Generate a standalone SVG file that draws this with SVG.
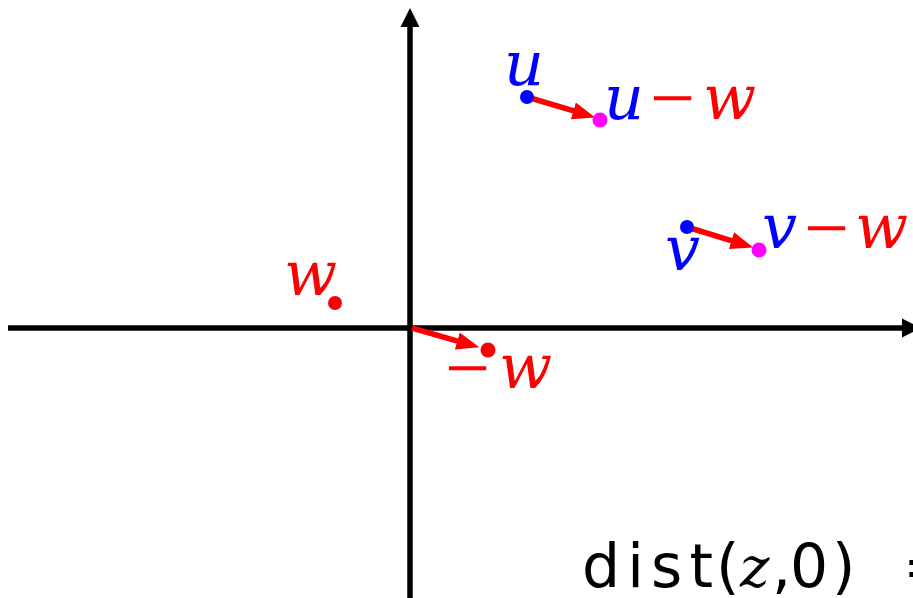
<svg xmlns="http://www.w3.org/2000/svg" width="913" height="598" viewBox="0 0 913 598">
<style>
.ax{stroke:#000;stroke-width:5.5;fill:none}
.vec{stroke:#ff0000;stroke-width:5.5;fill:none}
.m{font-family:"DejaVu Serif","Liberation Serif",serif;font-style:italic;font-size:62px}
.op{font-family:"Liberation Serif","DejaVu Serif",serif;font-size:80px}
.s{font-family:"DejaVu Sans","Liberation Sans",sans-serif;font-size:60px;fill:#000}
.b{fill:#0000ff}.r{fill:#ff0000}.mg{fill:#ff00ff}
</style>
<defs>
<marker id="ah" markerUnits="userSpaceOnUse" markerWidth="24" markerHeight="20" viewBox="0 0 22 18" refX="6" refY="9" orient="auto">
<path d="M0,1 L21,9 L0,17 Z" fill="#ff0000"/>
</marker>
</defs>
<g id="axes">
<line class="ax" x1="8" y1="328" x2="904" y2="328"/>
<path d="M902,318.5 L921,328 L902,337.5 Z" fill="#000"/>
<line class="ax" x1="410" y1="598" x2="410" y2="25"/>
<path d="M400.5,27 L410,8 L419.5,27 Z" fill="#000"/>
</g>
<g id="connectors">
<line class="vec" x1="527" y1="97" x2="579.6" y2="112.7" marker-end="url(#ah)"/>
<line class="vec" x1="687" y1="227" x2="737.7" y2="242.6" marker-end="url(#ah)"/>
<line class="vec" x1="412" y1="328" x2="463.6" y2="342.8" marker-end="url(#ah)"/>
</g>
<g id="node-u">
<circle class="b" cx="527" cy="97" r="7"/>
<text class="m b" x="504" y="85">u</text>
</g>
<g id="node-u-minus-w">
<circle class="mg" cx="600" cy="120" r="7.5"/>
<text class="m b" x="604" y="119">u</text>
<text class="op r" x="650" y="125">−</text>
<text class="m r" x="703" y="119">w</text>
</g>
<g id="node-v">
<circle class="b" cx="687" cy="227" r="7"/>
<text class="m b" x="665" y="270">v</text>
</g>
<g id="node-v-minus-w">
<circle class="mg" cx="759" cy="250" r="7.5"/>
<text class="m b" x="762" y="248">v</text>
<text class="op r" x="804" y="255">−</text>
<text class="m r" x="855" y="248">w</text>
</g>
<g id="node-w">
<circle class="r" cx="335" cy="303" r="7"/>
<text class="m r" x="284" y="295">w</text>
</g>
<g id="node-neg-w">
<circle class="r" cx="488" cy="350" r="7.5"/>
<text class="op r" x="445" y="395">−</text>
<text class="m r" x="499" y="388">w</text>
</g>
<g id="formula">
<text class="s" x="582" y="587" textLength="131" lengthAdjust="spacing">dist</text>
<text class="s" x="716" y="587">(</text>
<text class="m" x="740" y="587" style="font-size:56px">z</text>
<text class="s" x="772" y="587">,</text>
<text class="s" x="790" y="587">0</text>
<text class="s" x="832" y="587">)</text>
<text class="s" x="903" y="587">=</text>
</g>
</svg>
